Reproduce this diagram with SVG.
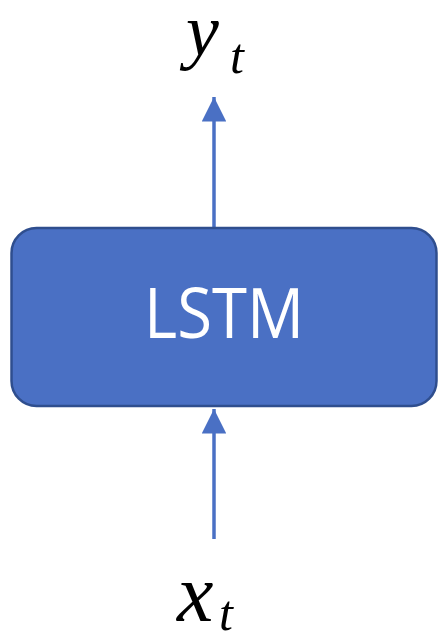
<svg xmlns="http://www.w3.org/2000/svg" width="438" height="635" viewBox="0 0 438 635">
<style>
.math{font-family:"Liberation Serif","DejaVu Serif",serif;font-style:italic;fill:#000}
.conn{stroke:#4A70C4;stroke-width:3.5;fill:none}
</style>
<defs>
<marker id="ah" viewBox="0 0 10 10" refX="10" refY="5" markerWidth="7" markerHeight="7" markerUnits="strokeWidth" orient="auto">
<path d="M0,0 L10,5 L0,10 z" fill="#4A70C4"/>
</marker>
</defs>
<rect width="438" height="635" fill="#fff"/>
<g id="connectors">
<line class="conn" x1="214" y1="227" x2="214" y2="97" marker-end="url(#ah)"/>
<line class="conn" x1="214" y1="539" x2="214" y2="409" marker-end="url(#ah)"/>
</g>
<g id="lstm">
<rect x="11.5" y="228" width="425" height="178" rx="25" fill="#4A70C4" stroke="#2F4E8E" stroke-width="2.5"/>
<text x="224" y="338" text-anchor="middle" font-family="'Open Sans','Noto Sans',sans-serif" font-size="70" fill="#fff" textLength="160" lengthAdjust="spacingAndGlyphs">LSTM</text>
</g>
<g id="yt">
<text class="math" x="186" y="55" font-size="74">y</text>
<text class="math" x="230" y="73" font-size="50">t</text>
</g>
<g id="xt">
<text class="math" x="177" y="621" font-size="82">x</text>
<text class="math" x="219" y="630" font-size="50">t</text>
</g>
</svg>
